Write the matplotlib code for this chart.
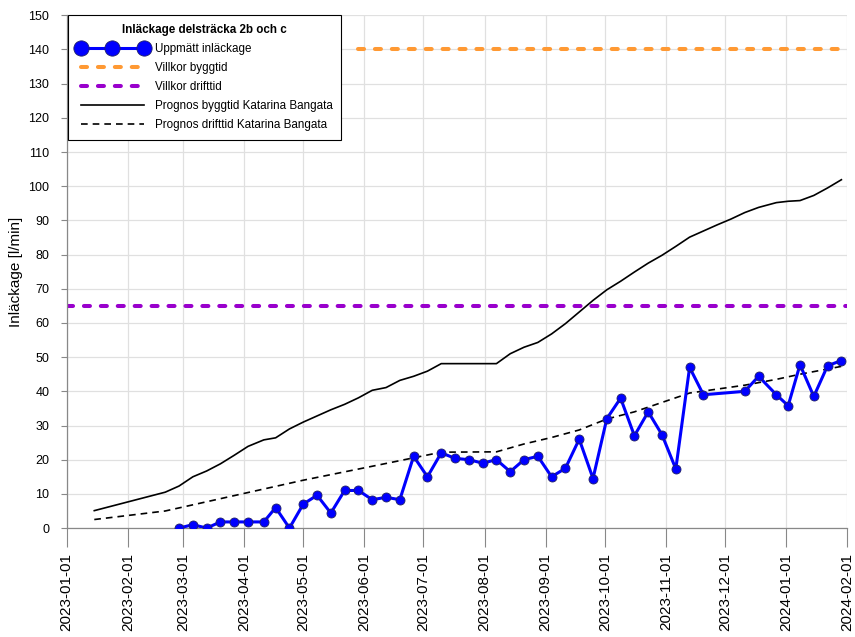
import matplotlib
matplotlib.use("Agg")
import matplotlib.pyplot as plt
import matplotlib.dates as mdates
from matplotlib.lines import Line2D
import pandas as pd

plt.rcParams['font.family'] = ['Liberation Sans', 'DejaVu Sans']

# Measured leakage
meas_dates = ["2023-02-27", "2023-03-06", "2023-03-13", "2023-03-20", "2023-03-27",
              "2023-04-03", "2023-04-11", "2023-04-17", "2023-04-24", "2023-05-01",
              "2023-05-08", "2023-05-15", "2023-05-22", "2023-05-29", "2023-06-05",
              "2023-06-12", "2023-06-19", "2023-06-26", "2023-07-03", "2023-07-10",
              "2023-07-17", "2023-07-24", "2023-07-31", "2023-08-07", "2023-08-14",
              "2023-08-21", "2023-08-28", "2023-09-04", "2023-09-11", "2023-09-18",
              "2023-09-25", "2023-10-02", "2023-10-09", "2023-10-16", "2023-10-23",
              "2023-10-30", "2023-11-06", "2023-11-13", "2023-11-20", "2023-12-11",
              "2023-12-18", "2023-12-27", "2024-01-02", "2024-01-08", "2024-01-15",
              "2024-01-22", "2024-01-29"]
meas_values = [0, 1, 0, 1.8, 1.8, 1.8, 1.8, 6, 0, 7,
               9.6, 4.4, 11, 11, 8.3, 9, 8.3, 21, 15, 22,
               20.4, 20, 19, 20, 16.5, 20, 21, 15, 17.5, 26,
               14.5, 32, 38, 27, 34, 27.3, 17.3, 47, 39, 40,
               44.4, 39, 35.8, 47.8, 38.5, 47.5, 49]

# Forecast, construction period
bygg_dates = ["2023-01-15", "2023-02-20", "2023-02-27", "2023-03-06", "2023-03-13",
              "2023-03-20", "2023-03-27", "2023-04-03", "2023-04-11", "2023-04-17",
              "2023-04-24", "2023-05-01", "2023-05-08", "2023-05-15", "2023-05-22",
              "2023-05-29", "2023-06-05", "2023-06-12", "2023-06-19", "2023-06-26",
              "2023-07-03", "2023-07-10", "2023-07-17", "2023-07-24", "2023-07-31",
              "2023-08-07", "2023-08-14", "2023-08-21", "2023-08-28", "2023-09-04",
              "2023-09-11", "2023-09-18", "2023-09-25", "2023-10-02", "2023-10-09",
              "2023-10-16", "2023-10-23", "2023-10-30", "2023-11-06", "2023-11-13",
              "2023-11-20", "2023-11-27", "2023-12-04", "2023-12-11", "2023-12-18",
              "2023-12-27", "2024-01-02", "2024-01-08", "2024-01-15", "2024-01-22",
              "2024-01-29"]
bygg_values = [5.1, 10.5, 12.3, 15.0, 16.7,
               18.8, 21.3, 23.9, 25.8, 26.4,
               29.0, 31.0, 32.8, 34.6, 36.2,
               38.1, 40.3, 41.1, 43.2, 44.4,
               45.9, 48.1, 48.1, 48.1, 48.1,
               48.1, 51.0, 52.9, 54.3, 56.8,
               59.8, 63.2, 66.6, 69.7, 72.2,
               74.9, 77.5, 79.8, 82.4, 85.1,
               86.9, 88.7, 90.4, 92.3, 93.8,
               95.2, 95.6, 95.8, 97.3, 99.5,
               101.9]

# Forecast, operation period
drift_dates = ["2023-01-15", "2023-02-20", "2023-05-01", "2023-06-12", "2023-07-10",
               "2023-08-07", "2023-08-21", "2023-09-04", "2023-09-18", "2023-10-02",
               "2023-10-16", "2023-11-13", "2023-12-11", "2023-12-27", "2024-01-08",
               "2024-01-29"]
drift_values = [2.5, 5.0, 14.0, 18.9, 22.2,
                22.3, 24.6, 26.5, 28.7, 31.9,
                34.0, 39.5, 41.8, 43.5, 45.0,
                47.3]

# Conditions
villkor_bygg_dates = ["2023-05-29", "2024-02-01"]
villkor_bygg_values = [140, 140]
villkor_drift_dates = ["2023-01-01", "2024-02-01"]
villkor_drift_values = [65, 65]

legend_title = "Inläckage delsträcka 2b och c"
labels = ["Uppmätt inläckage", "Villkor byggtid", "Villkor drifttid",
          "Prognos byggtid Katarina Bangata", "Prognos drifttid Katarina Bangata"]

fig = plt.figure(figsize=(8.55, 6.37), dpi=100)
ax = fig.add_axes([0.078, 0.171, 0.913, 0.805])

DOT = (0, (1.5, 2.7))
DASH = (0, (4, 3))

td = pd.to_datetime
ax.plot(td(villkor_drift_dates), villkor_drift_values, color="#9900CC", lw=2.9,
        linestyle=DOT, dash_capstyle="round", zorder=2)
ax.plot(td(villkor_bygg_dates), villkor_bygg_values, color="#FF9933", lw=2.9,
        linestyle=DOT, dash_capstyle="round", zorder=2)
ax.plot(td(bygg_dates), bygg_values, color="black", lw=1.2, zorder=3)
ax.plot(td(drift_dates), drift_values, color="black", lw=1.2,
        linestyle=DASH, zorder=3)
ax.plot(td(meas_dates), meas_values, color="#0000FF", lw=2.2, marker="o",
        markersize=6.5, markerfacecolor="#0000FF", markeredgecolor="#222266",
        markeredgewidth=0.6, zorder=4)

ax.set_xlim(td("2023-01-01"), td("2024-02-01"))
ax.set_ylim(0, 150)
ax.set_yticks(range(0, 151, 10))
ax.xaxis.set_major_locator(mdates.MonthLocator())
ax.xaxis.set_major_formatter(mdates.DateFormatter("%Y-%m-%d"))
for lab in ax.get_xticklabels():
    lab.set_rotation(90)
ax.tick_params(axis="x", labelsize=11, length=14, color="#888888", width=0.8, pad=4)
ax.tick_params(axis="y", labelsize=9, length=4.5, color="#888888", width=0.8, pad=8)
ax.grid(True, color="#e0e0e0", lw=0.9)
ax.set_axisbelow(True)
for s in ["top", "right"]:
    ax.spines[s].set_visible(False)
for s in ["left", "bottom"]:
    ax.spines[s].set_color("#888888")
    ax.spines[s].set_linewidth(0.9)
ax.set_ylabel("Inläckage [l/min]", fontsize=11, labelpad=4)

handles = [
    Line2D([], [], color="#0000FF", lw=2.2, marker="o", markersize=11,
           markerfacecolor="#0000FF", markeredgecolor="#222266", markeredgewidth=0.6),
    Line2D([], [], color="#FF9933", lw=2.9, linestyle=DOT, dash_capstyle="round"),
    Line2D([], [], color="#9900CC", lw=2.9, linestyle=DOT, dash_capstyle="round"),
    Line2D([], [], color="black", lw=1.2),
    Line2D([], [], color="black", lw=1.2, linestyle=DASH),
]
leg = ax.legend(handles, labels, loc="upper left", title=legend_title,
                fontsize=8.4, numpoints=3, handlelength=6.0, handletextpad=0.66,
                labelspacing=0.6, borderpad=0.75, borderaxespad=0.0,
                bbox_to_anchor=(0.002, 1.0),
                fancybox=False, framealpha=1, edgecolor="black",
                title_fontproperties={"weight": "bold", "size": 8.4})
leg.get_frame().set_linewidth(0.8)

fig.savefig("out.png", dpi=100)
